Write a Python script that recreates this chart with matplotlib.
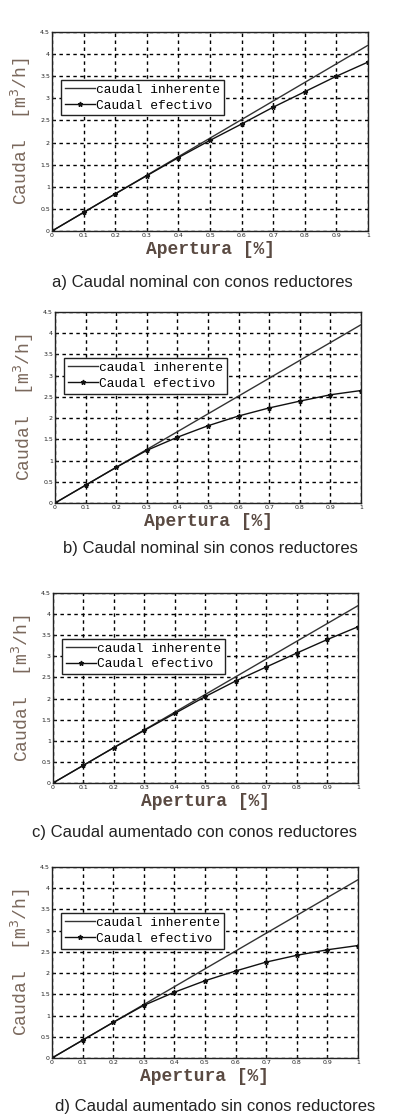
import matplotlib
matplotlib.use('Agg')
import matplotlib.pyplot as plt

apertura  = [0.0, 0.1, 0.2, 0.3, 0.4, 0.5, 0.6, 0.7, 0.8, 0.9, 1.0]
inherente = [0.0, 0.42, 0.84, 1.26, 1.68, 2.10, 2.52, 2.94, 3.36, 3.78, 4.20]

efectivo_a = [0.0, 0.42, 0.84, 1.25, 1.66, 2.05, 2.42, 2.80, 3.15, 3.50, 3.82]
efectivo_b = [0.0, 0.42, 0.84, 1.24, 1.55, 1.82, 2.05, 2.24, 2.40, 2.55, 2.65]
efectivo_c = [0.0, 0.42, 0.84, 1.25, 1.65, 2.05, 2.42, 2.75, 3.08, 3.40, 3.70]
efectivo_d = [0.0, 0.42, 0.84, 1.24, 1.55, 1.82, 2.05, 2.26, 2.42, 2.55, 2.65]

captions = ['a) Caudal nominal con conos reductores',
            'b) Caudal nominal sin conos reductores',
            'c) Caudal aumentado con conos reductores',
            'd) Caudal aumentado sin conos reductores']

xticks = [0, 0.1, 0.2, 0.3, 0.4, 0.5, 0.6, 0.7, 0.8, 0.9, 1]
yticks = [0, 0.5, 1, 1.5, 2, 2.5, 3, 3.5, 4, 4.5]

W, H = 397, 1117
# axes boxes in pixels: left, top, right, bottom
boxes = [(52, 32, 368, 231),
         (55, 312, 361, 503),
         (53, 593, 358, 783),
         (52, 867, 358, 1058)]
cap_pos = [(202, 282), (210, 548), (194, 833), (215, 1107)]

mono  = 'Liberation Mono'
brown = '#7a685c'

fig = plt.figure(figsize=(W / 100, H / 100), dpi=100)

series = [efectivo_a, efectivo_b, efectivo_c, efectivo_d]
for i, efectivo in enumerate(series):
    l, t, r, b = boxes[i]
    ax = fig.add_axes([l / W, 1 - b / H, (r - l) / W, (b - t) / H])

    ax.plot(apertura, inherente, color='#333333', linewidth=1.0,
            label='caudal inherente')
    ax.plot(apertura, efectivo, color='#111111', linewidth=1.0,
            marker='*', markersize=3.5, label='Caudal efectivo')

    ax.set_xlim(0, 1)
    ax.set_ylim(0, 4.5)
    ax.set_xticks(xticks)
    ax.set_yticks(yticks)
    ax.set_xticklabels([('%g' % v) for v in xticks])
    ax.set_yticklabels([('%g' % v) for v in yticks])
    ax.tick_params(direction='in', length=2, width=0.6, labelsize=4.5,
                   pad=1.5, colors='#222222')
    ax.grid(True, color='black', linestyle=(0, (2.5, 2.5)), linewidth=1.0)
    for s in ax.spines.values():
        s.set_linewidth(1.0)
        s.set_color('#222222')

    ax.set_xlabel('Apertura [%]', family=mono, fontweight='bold',
                  fontsize=13, color='#5a4a42', labelpad=2)
    ax.set_ylabel('Caudal  [m$^3$/h]', family=mono,
                  fontsize=13, color=brown, labelpad=5)

    leg = ax.legend(loc='upper left', bbox_to_anchor=(0.03, 0.76),
                    borderaxespad=0, fancybox=False, framealpha=1,
                    edgecolor='#222222', handlelength=2.3, handletextpad=0.1,
                    borderpad=0.3, labelspacing=0.3,
                    prop={'family': mono, 'size': 9.3})
    leg.get_frame().set_linewidth(1.0)

    cx, cy = cap_pos[i]
    fig.text(cx / W, 1 - cy / H, captions[i], ha='center', va='center',
             family='Liberation Sans', fontsize=12, color='#222222')

fig.savefig('out.png', dpi=100)
